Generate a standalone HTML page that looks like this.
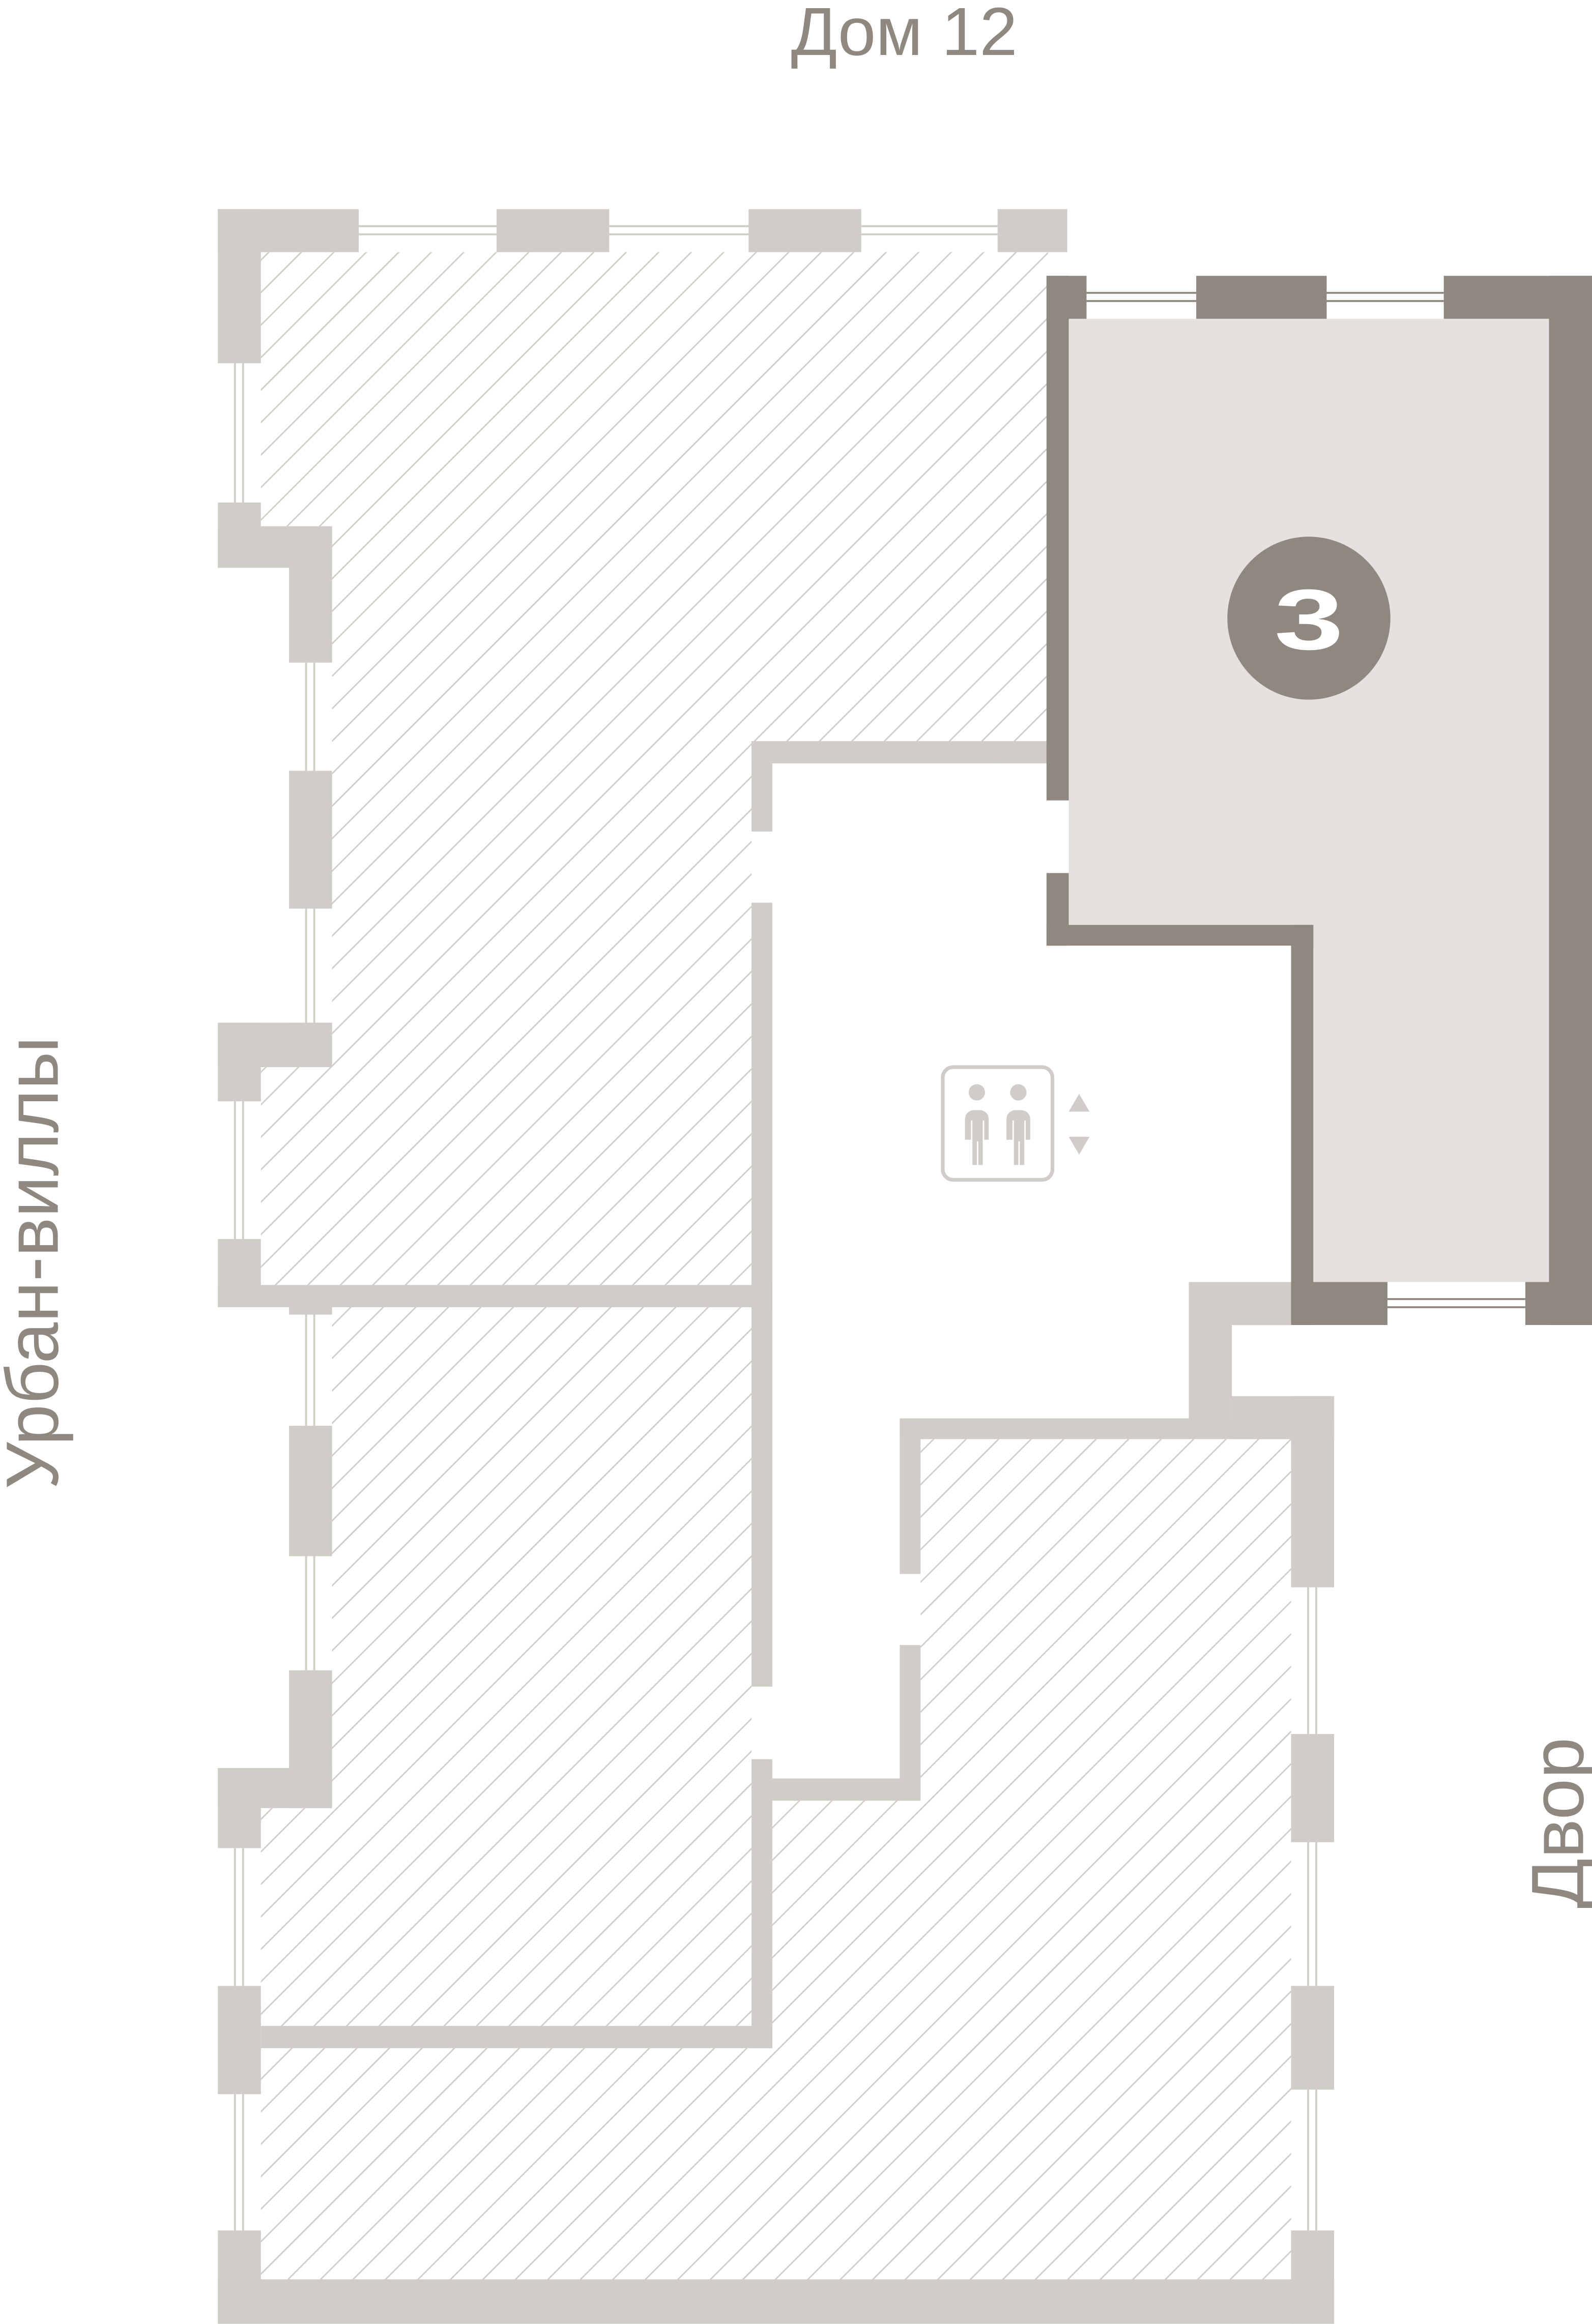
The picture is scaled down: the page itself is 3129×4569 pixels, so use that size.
<!DOCTYPE html>
<html><head><meta charset="utf-8"><style>
html,body{margin:0;padding:0;background:#fff;}
svg{display:block;}
</style></head><body>
<svg width="3129" height="4569" viewBox="0 0 1074 1568" xmlns="http://www.w3.org/2000/svg">
<defs>
<pattern id="h" patternUnits="userSpaceOnUse" width="15.5" height="15.5" patternTransform="rotate(45)">
<line x1="0" y1="0" x2="0" y2="15.5" stroke="#d0ccc7" stroke-width="1.9"/>
</pattern>
</defs>
<rect width="1074" height="1568" fill="#fff"/>
<polygon fill="url(#h)" points="176,170 707,170 707,515 507,515 507,867 176,867 176,720 224,720 224,355 176,355"/>
<polygon fill="url(#h)" points="224,882 507,882 507,1367 176,1367 176,1220 224,1220"/>
<polygon fill="url(#h)" points="176,1382 521,1382 521,1215 621,1215 621,971 871,971 871,1538 176,1538"/>
<g stroke="#d0ccc7" stroke-width="1.3">
<line x1="242" y1="152.5" x2="335" y2="152.5"/><line x1="242" y1="158" x2="335" y2="158"/>
<line x1="411" y1="152.5" x2="505" y2="152.5"/><line x1="411" y1="158" x2="505" y2="158"/>
<line x1="581" y1="152.5" x2="673" y2="152.5"/><line x1="581" y1="158" x2="673" y2="158"/>
<line x1="158.5" y1="245" x2="158.5" y2="339"/><line x1="164" y1="245" x2="164" y2="339"/>
<line x1="206.5" y1="447" x2="206.5" y2="520"/><line x1="212" y1="447" x2="212" y2="520"/>
<line x1="206.5" y1="613" x2="206.5" y2="690"/><line x1="212" y1="613" x2="212" y2="690"/>
<line x1="158.5" y1="743" x2="158.5" y2="836"/><line x1="164" y1="743" x2="164" y2="836"/>
<line x1="206.5" y1="882" x2="206.5" y2="962"/><line x1="212" y1="882" x2="212" y2="962"/>
<line x1="206.5" y1="1050" x2="206.5" y2="1127"/><line x1="212" y1="1050" x2="212" y2="1127"/>
<line x1="158.5" y1="1247" x2="158.5" y2="1340"/><line x1="164" y1="1247" x2="164" y2="1340"/>
<line x1="158.5" y1="1413" x2="158.5" y2="1505"/><line x1="164" y1="1413" x2="164" y2="1505"/>
<line x1="882.5" y1="1071" x2="882.5" y2="1170"/><line x1="888" y1="1071" x2="888" y2="1170"/>
<line x1="882.5" y1="1243" x2="882.5" y2="1340"/><line x1="888" y1="1243" x2="888" y2="1340"/>
<line x1="882.5" y1="1410" x2="882.5" y2="1505"/><line x1="888" y1="1410" x2="888" y2="1505"/>
</g>
<g fill="#d0ccc7">
<rect x="147" y="141" width="95" height="29"/>
<rect x="335" y="141" width="76" height="29"/>
<rect x="505" y="141" width="76" height="29"/>
<rect x="673" y="141" width="47" height="29"/>
<rect x="147" y="141" width="29" height="104"/>
<rect x="147" y="339" width="29" height="44"/>
<rect x="147" y="355" width="77" height="28"/>
<rect x="195" y="355" width="29" height="92"/>
<rect x="195" y="520" width="29" height="93"/>
<rect x="195" y="690" width="29" height="30"/>
<rect x="147" y="690" width="77" height="30"/>
<rect x="147" y="690" width="29" height="53"/>
<rect x="147" y="836" width="29" height="46"/>
<rect x="147" y="867" width="374" height="15"/>
<rect x="195" y="882" width="29" height="5"/>
<rect x="195" y="962" width="29" height="88"/>
<rect x="195" y="1127" width="29" height="93"/>
<rect x="147" y="1193" width="77" height="27"/>
<rect x="147" y="1193" width="29" height="54"/>
<rect x="147" y="1340" width="29" height="73"/>
<rect x="176" y="1367" width="345" height="15"/>
<rect x="147" y="1505" width="29" height="63"/>
<rect x="147" y="1538" width="753" height="30"/>
<rect x="507" y="500" width="200" height="15"/>
<rect x="507" y="500" width="14" height="61"/>
<rect x="507" y="609" width="14" height="529"/>
<rect x="507" y="1187" width="14" height="195"/>
<rect x="507" y="1200" width="114" height="15"/>
<rect x="607" y="1110" width="14" height="105"/>
<rect x="607" y="957" width="14" height="105"/>
<rect x="607" y="957" width="293" height="14"/>
<rect x="802" y="865" width="29" height="92"/>
<rect x="802" y="865" width="69" height="29"/>
<rect x="831" y="942" width="69" height="29"/>
<rect x="871" y="942" width="29" height="129"/>
<rect x="871" y="1170" width="29" height="73"/>
<rect x="871" y="1340" width="29" height="70"/>
<rect x="871" y="1505" width="29" height="63"/>
</g>
<g fill="#e4e1de">
<rect x="721" y="215" width="324" height="409"/>
<rect x="886" y="624" width="159" height="241"/>
</g>
<g stroke="#8f8880" stroke-width="1.3">
<line x1="733" y1="197.5" x2="807" y2="197.5"/><line x1="733" y1="203" x2="807" y2="203"/>
<line x1="895" y1="197.5" x2="974" y2="197.5"/><line x1="895" y1="203" x2="974" y2="203"/>
<line x1="936" y1="876.5" x2="1029" y2="876.5"/><line x1="936" y1="882" x2="1029" y2="882"/>
</g>
<g fill="#8f8880">
<rect x="706" y="186" width="27" height="29"/>
<rect x="807" y="186" width="88" height="29"/>
<rect x="974" y="186" width="100" height="29"/>
<rect x="1045" y="186" width="29" height="708"/>
<rect x="706" y="186" width="15" height="354"/>
<rect x="706" y="589" width="15" height="49"/>
<rect x="706" y="624" width="180" height="14"/>
<rect x="871" y="624" width="15" height="270"/>
<rect x="871" y="865" width="65" height="29"/>
<rect x="1029" y="865" width="45" height="29"/>
</g>
<circle cx="883" cy="417" r="55" fill="#8f8880"/>
<text transform="translate(883,438) scale(1.45,1)" text-anchor="middle" font-family="Liberation Sans, sans-serif" font-weight="bold" font-size="58" fill="#fff">3</text>
<g fill="#d0ccc7">
<rect x="636" y="720" width="74" height="76" rx="7" fill="none" stroke="#d0ccc7" stroke-width="2.5"/>
<circle cx="659" cy="737" r="5.5"/>
<path d="M651,769 v-14 a6,6 0 0 1 6,-6 h4 a6,6 0 0 1 6,6 v14 h-3 v-13 h-1 v30 h-3 v-16 h-1 v16 h-3 v-30 h-1 v13 z"/>
<circle cx="687" cy="737" r="5.5"/>
<path d="M679,769 v-14 a6,6 0 0 1 6,-6 h4 a6,6 0 0 1 6,6 v14 h-3 v-13 h-1 v30 h-3 v-16 h-1 v16 h-3 v-30 h-1 v13 z"/>
<polygon points="728,738 735,750 721,750"/>
<polygon points="721,767 735,767 728,779"/>
</g>
<g font-family="Liberation Sans, DejaVu Sans, sans-serif" fill="#8f8880">
<text x="610" y="37" text-anchor="middle" font-size="46">Дом 12</text>
<text transform="translate(39,852) rotate(-90)" text-anchor="middle" font-size="50">Урбан-виллы</text>
<text transform="translate(1068,1230) rotate(-90)" text-anchor="middle" font-size="50">Двор</text>
</g>
</svg>
</body></html>
